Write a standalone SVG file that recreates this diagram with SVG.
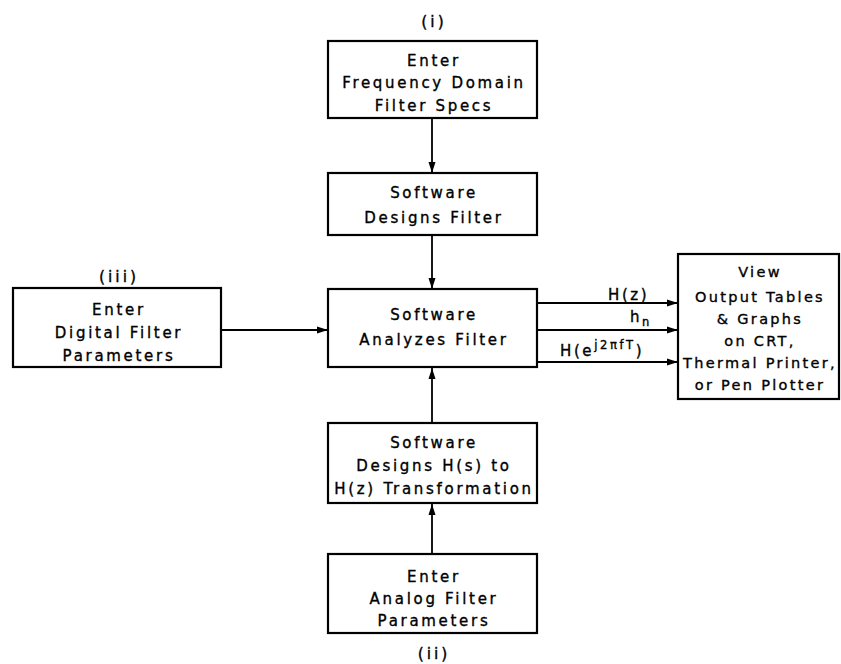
<svg xmlns="http://www.w3.org/2000/svg" width="841" height="664" viewBox="0 0 841 664">
  <style>
    .box { fill: #ffffff; stroke: #000000; stroke-width: 2.2; }
    text { font-family: "DejaVu Sans", "Liberation Sans", sans-serif; fill: #000000; stroke: #000000; stroke-width: 0.35px; }
    .lbl { font-size: 15px; letter-spacing: 2.7px; text-anchor: middle; }
    .narrow { font-size: 14.5px; letter-spacing: 2.3px; }
    .tag { font-size: 15.5px; letter-spacing: 3px; text-anchor: middle; }
    .sig { font-size: 15px; letter-spacing: 2.6px; }
    .wire { fill: none; stroke: #000000; stroke-width: 1.8; }
  </style>
  <defs>
    <marker id="arrow" markerUnits="userSpaceOnUse" markerWidth="12" markerHeight="8" refX="11" refY="4" orient="auto">
      <path d="M0,0.5 L11,4 L0,7.5 z" fill="#000000"/>
    </marker>
  </defs>

  <rect width="841" height="664" fill="#ffffff"/>

  <!-- connectors -->
  <g id="connectors">
    <line class="wire" x1="432" y1="118" x2="432" y2="173" marker-end="url(#arrow)"/>
    <line class="wire" x1="432" y1="235" x2="432" y2="289" marker-end="url(#arrow)"/>
    <line class="wire" x1="221" y1="330" x2="328" y2="330" marker-end="url(#arrow)"/>
    <line class="wire" x1="432" y1="423" x2="432" y2="368" marker-end="url(#arrow)"/>
    <line class="wire" x1="432" y1="554" x2="432" y2="504" marker-end="url(#arrow)"/>
    <line class="wire" x1="537" y1="303" x2="678" y2="303" marker-end="url(#arrow)"/>
    <line class="wire" x1="537" y1="330" x2="678" y2="330" marker-end="url(#arrow)"/>
    <line class="wire" x1="537" y1="362" x2="678" y2="362" marker-end="url(#arrow)"/>
    <text class="sig" x="608" y="300">H(z)</text>
    <text class="sig" x="630" y="322">h<tspan font-size="11.5" dy="4">n</tspan></text>
    <text class="sig" x="560" y="356">H(e<tspan font-size="11.5" dy="-7">j2πfT</tspan><tspan dy="7">)</tspan></text>
  </g>

  <!-- (i) frequency domain specs -->
  <g id="enter-freq-specs">
    <text class="tag" x="434" y="27">(i)</text>
    <rect class="box" x="328" y="41" width="209" height="77"/>
    <text class="lbl" x="434" y="66">Enter</text>
    <text class="lbl" x="434" y="88">Frequency Domain</text>
    <text class="lbl" x="434" y="111">Filter Specs</text>
  </g>

  <g id="designs-filter">
    <rect class="box" x="328" y="173" width="209" height="62"/>
    <text class="lbl" x="434" y="198">Software</text>
    <text class="lbl" x="434" y="223">Designs Filter</text>
  </g>

  <g id="analyzes-filter">
    <rect class="box" x="328" y="289" width="209" height="78"/>
    <text class="lbl" x="434" y="320">Software</text>
    <text class="lbl" x="434" y="345">Analyzes Filter</text>
  </g>

  <!-- (iii) digital filter parameters -->
  <g id="enter-digital">
    <text class="tag" x="119" y="282">(iii)</text>
    <rect class="box" x="13" y="288" width="208" height="79"/>
    <text class="lbl" x="119" y="315">Enter</text>
    <text class="lbl" x="119" y="338">Digital Filter</text>
    <text class="lbl" x="119" y="361">Parameters</text>
  </g>

  <g id="view-output">
    <rect class="box" x="678" y="254" width="161" height="145"/>
    <text class="lbl narrow" x="760" y="277">View</text>
    <text class="lbl narrow" x="760" y="302">Output Tables</text>
    <text class="lbl narrow" x="760" y="324">&amp; Graphs</text>
    <text class="lbl narrow" x="760" y="346">on CRT,</text>
    <text class="lbl narrow" x="760" y="368">Thermal Printer,</text>
    <text class="lbl narrow" x="760" y="390">or Pen Plotter</text>
  </g>

  <g id="designs-transform">
    <rect class="box" x="328" y="423" width="209" height="80"/>
    <text class="lbl" x="434" y="448">Software</text>
    <text class="lbl" x="434" y="471">Designs H(s) to</text>
    <text class="lbl" x="434" y="494">H(z) Transformation</text>
  </g>

  <!-- (ii) analog filter parameters -->
  <g id="enter-analog">
    <rect class="box" x="328" y="554" width="209" height="79"/>
    <text class="lbl" x="434" y="582">Enter</text>
    <text class="lbl" x="434" y="604">Analog Filter</text>
    <text class="lbl" x="434" y="626">Parameters</text>
    <text class="tag" x="434" y="659">(ii)</text>
  </g>
</svg>
